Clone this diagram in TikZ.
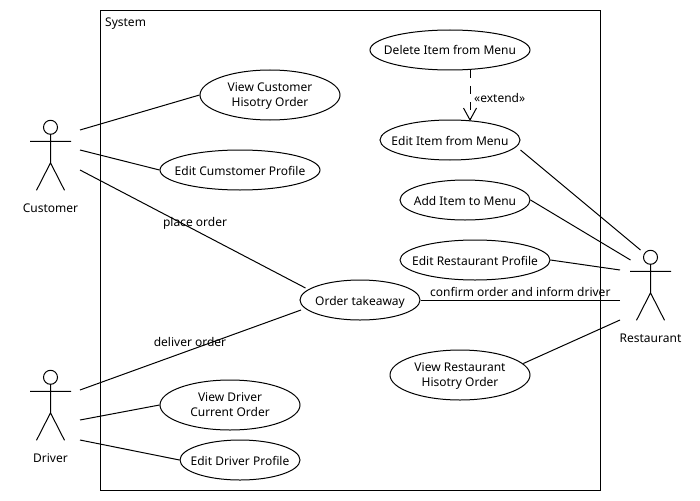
\documentclass[tikz,border=0pt]{standalone}
\usepackage{fontspec}
\setmainfont{Noto Sans}
\usetikzlibrary{shapes.geometric,arrows.meta}
\tikzset{
  usecase/.style={draw=black,ellipse,inner sep=0pt,line width=1pt},
  link/.style={draw=black,line width=1pt},
  lbl/.style={inner sep=0pt,font=\fontsize{12pt}{15pt}\selectfont,align=center,
    execute at begin node=\strut,execute at end node=\strut},
  actorshape/.style={draw=black,line width=1pt},
}
\newcommand{\uc}[6]{\node[usecase,minimum width=#4pt,minimum height=#5pt] (#1) at (#2,#3) {};
  \node[lbl] (#1text) at (#2,#3+2) {#6};}
\newcommand{\actorfig}[4]{%
  \draw[actorshape] (#1,#2) circle (7);
  \draw[actorshape] (#1,#2+7) -- (#1,#2+35.5) (#1-20.5,#2+14) -- (#1+20.5,#2+14)
     (#1-14,#2+63) -- (#1,#2+35.5) -- (#1+14,#2+63);
  \node[lbl] (#3) at (#1,#2+81.7) {#4};}
\begin{document}
\begin{tikzpicture}[x=1pt,y=-1pt]
\useasboundingbox (0,0) rectangle (700,500);
\node[draw=black,line width=1pt,minimum width=500pt,minimum height=480pt,inner sep=0pt] (system) at (350.5,250.5) {};
\node[lbl,anchor=west] (systemlabel) at (105,24) {System};

\uc{del}{450}{50}{160}{40}{Delete Item from Menu}
\uc{edit}{450}{140}{140}{40}{Edit Item from Menu}
\uc{viewc}{270}{95}{140}{50}{View Customer\\Hisotry Order}
\uc{editc}{240}{170}{160}{40}{Edit Cumstomer Profile}
\uc{add}{465}{200}{130}{40}{Add Item to Menu}
\uc{editr}{475}{260}{150}{40}{Edit Restaurant Profile}
\uc{order}{360}{300}{120}{40}{Order takeaway}
\uc{viewr}{460}{375}{140}{50}{View Restaurant\\Hisotry Order}
\uc{viewd}{230}{405}{140}{50}{View Driver\\Current Order}
\uc{editd}{240}{460}{120}{40}{Edit Driver Profile}

\actorfig{50.5}{127.3}{customer}{Customer}
\actorfig{50.5}{377.3}{driver}{Driver}
\actorfig{650.5}{257.3}{restaurant}{Restaurant}

\coordinate (c1) at (80,130);
\coordinate (c2) at (80,150);
\coordinate (c3) at (80,170);
\coordinate (d1) at (80,390);
\coordinate (d2) at (80,420);
\coordinate (d3) at (80,440);
\coordinate (r1) at (640.5,250);
\coordinate (r2) at (630.5,260);
\coordinate (r3) at (620,270);
\coordinate (r4) at (620,300);
\coordinate (r5) at (620,320);
\coordinate (o1) at (305.5,288);
\coordinate (o2) at (301,310);
\coordinate (e1) at (520.5,150);
\coordinate (v1) at (523.3,363.5);

\draw[link] (c1) -- (viewc.west);
\draw[link] (c2) -- (editc.west);
\draw[link] (c3) -- (o1);
\draw[link] (d1) -- (o2);
\draw[link] (d2) -- (viewd.west);
\draw[link] (d3) -- (editd.west);
\draw[link] (r1) -- (e1);
\draw[link] (r2) -- (add.east);
\draw[link] (r3) -- (editr.east);
\draw[link] (r4) -- (order.east);
\draw[link] (r5) -- (v1);

\coordinate (dt) at (470,70);
\coordinate (dh) at (470,120);
\draw[link,dash pattern=on 8pt off 8pt] (dt) -- (dh);
\draw[link] (463.5,108) -- (dh) -- (476.5,108);
\node[lbl,anchor=west] (extend) at (474,100) {«extend»};
\node[lbl] (placelabel) at (195,223) {place order};
\node[lbl] (deliverlabel) at (190,343) {deliver order};
\node[lbl,anchor=west] (confirmlabel) at (430,293) {confirm order and inform driver};
\end{tikzpicture}
\end{document}
